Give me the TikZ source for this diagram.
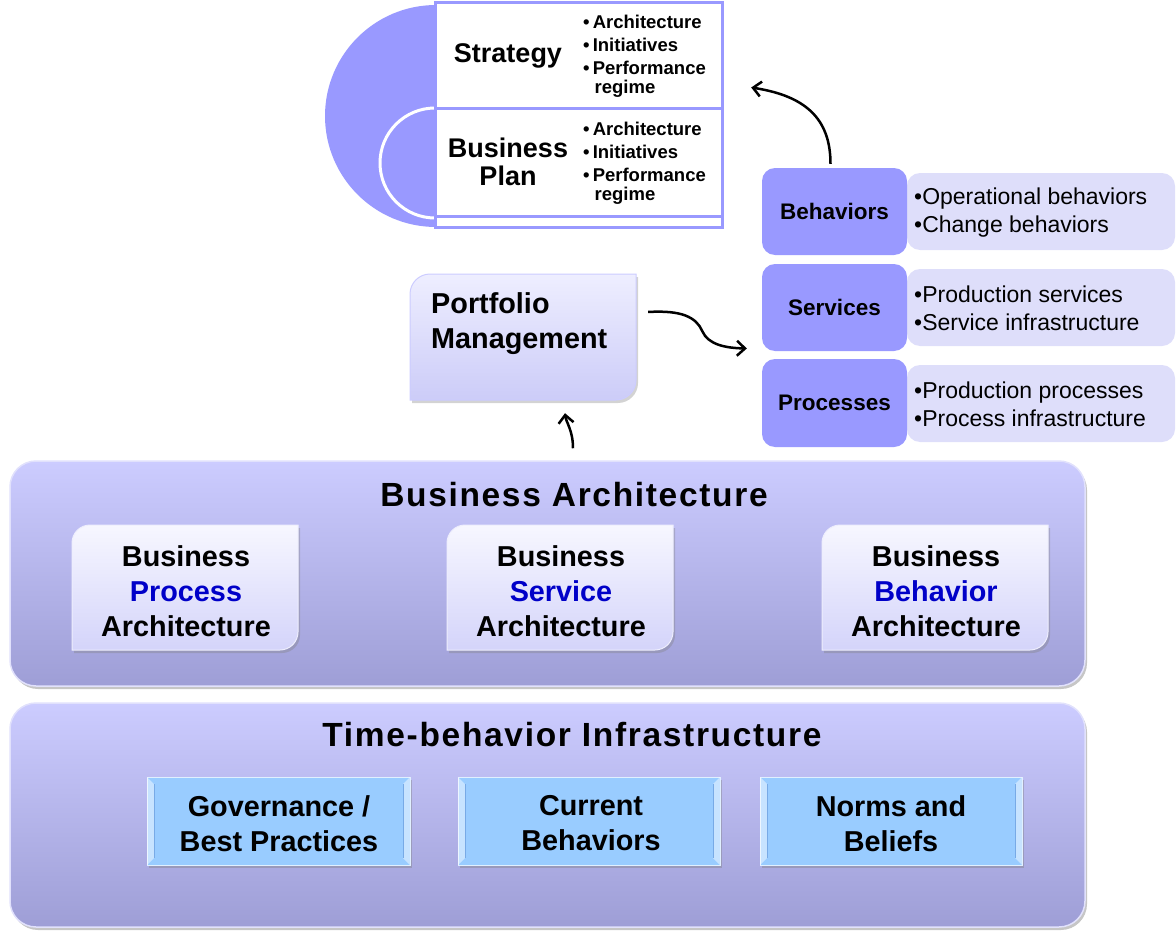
\documentclass[tikz,border=0pt]{standalone}
\usepackage{fontspec}
\setmainfont{Liberation Sans}
\newfontfamily\titlefont[LetterSpace=5]{Liberation Sans}
\usetikzlibrary{arrows.meta,shadows,calc}
\definecolor{purp}{RGB}{153,153,255}
\definecolor{txtfill}{RGB}{222,222,250}
\definecolor{baTop}{RGB}{204,204,255}
\definecolor{baBot}{RGB}{158,158,214}
\definecolor{baEdge}{RGB}{225,225,252}
\definecolor{inTop}{RGB}{247,247,255}
\definecolor{inBot}{RGB}{212,212,250}
\definecolor{pmTop}{RGB}{238,238,255}
\definecolor{pmBot}{RGB}{204,204,248}
\definecolor{blueBox}{RGB}{153,204,255}
\definecolor{bevEdge}{RGB}{120,170,230}
\definecolor{hiBlue}{RGB}{0,0,200}
\newcommand\myasymbox[6][]{%
  \path[#1] (#2,#3+#6) .. controls (#2,#3+0.45*#6) and (#2+0.45*#6,#3) .. (#2+#6,#3)
    -- (#4,#3) -- (#4,#5-#6) .. controls (#4,#5-0.45*#6) and (#4-0.45*#6,#5) .. (#4-#6,#5)
    -- (#2,#5) -- cycle;}
\newcommand\mybevelbox[4]{%
  \fill[blueBox, draw=white!70!blueBox, line width=1pt,
        drop shadow={shadow xshift=2pt,shadow yshift=-3pt,opacity=0.4}] (#1,#2) rectangle (#3,#4);
  \fill[white, opacity=0.45] (#1,#2) -- (#1+7,#2+7) -- (#1+7,#4-7) -- (#1,#4) -- cycle;
  \fill[white, opacity=0.45] (#3,#2) -- (#3-7,#2+7) -- (#3-7,#4-7) -- (#3,#4) -- cycle;
  \draw[bevEdge, line width=0.8pt] (#1+7,#2+7) -- (#1+7,#4-7);
  \draw[bevEdge, line width=0.8pt] (#3-7,#2+7) -- (#3-7,#4-7);}
\tikzset{
  bigbox/.style={rounded corners=26pt, top color=baTop, bottom color=baBot, draw=baEdge,
    line width=1.5pt, drop shadow={shadow xshift=2pt,shadow yshift=-3pt,opacity=0.45},
    minimum width=1075pt, minimum height=225pt, inner sep=0pt},
  innerfill/.style={top color=inTop, bottom color=inBot, draw=white!60!inBot, line width=1pt,
    drop shadow={shadow xshift=2pt,shadow yshift=-3pt,opacity=0.35}},
  lbl/.style={font=\fontsize{28.8}{35}\selectfont\bfseries, align=center, inner sep=0pt},
  bigtitle/.style={font=\titlefont\bfseries\fontsize{33.5}{36}\selectfont, inner sep=0pt},
  stackbox/.style={fill=purp, rounded corners=13pt, minimum width=145pt, minimum height=87pt,
    inner sep=0pt, font=\fontsize{22.5}{24}\selectfont\bfseries},
  txtbox/.style={fill=txtfill, rounded corners=13pt, minimum width=268pt, minimum height=77pt, inner sep=0pt},
  bullets/.style={font=\fontsize{23}{28}\selectfont, align=left, inner sep=0pt, anchor=west},
  smallbul/.style={font=\fontsize{18.5}{23}\selectfont\bfseries, align=left, inner sep=0pt, anchor=north west},
  arr/.style={line width=2.5pt, -{Straight Barb[length=8pt,width=15pt]}}
}
\begin{document}
\begin{tikzpicture}[x=1pt,y=-1pt]
\useasboundingbox (0,0) rectangle (1176,942);

% ---------- Strategy / Business plan ----------
\fill[purp] (436,116) circle[radius=111pt];
\filldraw[fill=purp, draw=white, line width=3pt] (435,163) circle[radius=55pt];
\filldraw[fill=white, draw=purp, line width=3pt] (435,3) rectangle (722,108);
\filldraw[fill=white, draw=purp, line width=3pt] (435,108) rectangle (722,216);
\filldraw[fill=white, draw=purp, line width=3pt] (435,216) rectangle (722,227);
\node[minimum width=287pt, minimum height=105pt, inner sep=0pt] (strat) at (578.5,55.5) {};
\node[lbl, font=\fontsize{27}{28}\selectfont\bfseries] (stratL) at (508,56) {Strategy};
\node[lbl, font=\fontsize{27}{28}\selectfont\bfseries] (bpL) at (508,162) {Business\\Plan};
\node[smallbul] (stratB) at (583,15) {•\,Architecture\\•\,Initiatives\\•\,Performance\\[-4pt]\hspace*{0.62em}regime};
\node[smallbul] (bpB) at (583,122) {•\,Architecture\\•\,Initiatives\\•\,Performance\\[-4pt]\hspace*{0.62em}regime};

% ---------- Right stack ----------
\node[txtbox] (behT) at (1041,211.5) {};
\node[stackbox] (beh) at (834.5,211.5) {Behaviors};
\node[bullets] (behL) at (914,213) {•Operational behaviors\\•Change behaviors};

\node[txtbox] (serT) at (1041,307.5) {};
\node[stackbox] (ser) at (834.5,307.5) {Services};
\node[bullets] (serL) at (914,308) {•Production services\\•Service infrastructure};

\node[txtbox] (proT) at (1041,403.5) {};
\node[stackbox, minimum height=88pt] (pro) at (834.5,403) {Processes};
\node[bullets] (proL) at (914,404) {•Production processes\\•Process infrastructure};

% ---------- Portfolio management ----------
\myasymbox[top color=pmTop, bottom color=pmBot, draw=white!50!purp, line width=1pt,
  drop shadow={shadow xshift=2pt,shadow yshift=-3pt,opacity=0.35}]{410}{274}{636}{400}{20}
\node[minimum width=226pt, minimum height=126pt, inner sep=0pt] (pm) at (523,337) {};
\node[lbl, align=left, anchor=west] (pmL) at (431,324) {Portfolio\\Management};

% ---------- Business Architecture ----------
\node[bigbox] (ba) at (547.5,573.5) {};
\node[bigtitle] (baL) at (574,495) {Business Architecture};
\myasymbox[innerfill]{72}{525}{298}{650}{18}
\myasymbox[innerfill]{447}{525}{673}{650}{18}
\myasymbox[innerfill]{822}{525}{1048}{650}{18}
\node[lbl] (bpa) at (186,591) {Business\\\textcolor{hiBlue}{Process}\\Architecture};
\node[lbl] (bsa) at (561,591) {Business\\\textcolor{hiBlue}{Service}\\Architecture};
\node[lbl] (bba) at (936,591) {Business\\\textcolor{hiBlue}{Behavior}\\Architecture};

% ---------- Time-behavior Infrastructure ----------
\node[bigbox, minimum height=224pt] (tb) at (547.5,815) {};
\node[bigtitle] (tbL) at (572,735) {Time-behavior Infrastructure};
\mybevelbox{147}{777}{410}{865}
\mybevelbox{458}{777}{720}{865}
\mybevelbox{760}{777}{1022}{865}
\node[lbl] (gov) at (279,823.5) {Governance /\\Best Practices};
\node[lbl] (cur) at (591,823.5) {Current\\Behaviors};
\node[lbl] (nor) at (891,823.5) {Norms and\\Beliefs};

% ---------- Connectors ----------
\draw[arr] ($(beh.north)+(-4,-4)$) .. controls ($(beh.north)+(-4,-50)$) and ($(beh.north)+(-30,-72)$) .. ($(strat.east)+(29,32)$);
\draw[arr] ($(pm.east)+(12,-25)$) .. controls ($(pm.east)+(45,-27)$) and ($(pm.east)+(60,-20)$) .. ($(pm.east)+(66,-6)$)
   .. controls ($(pm.east)+(72,8)$) and ($(pm.east)+(90,11)$) .. ($(ser.west)+(-15,41)$);
\draw[arr] ($(ba.north)+(25.5,-12)$) .. controls ($(ba.north)+(25.5,-30)$) and ($(pm.south)+(43,22)$) .. ($(pm.south)+(42,13)$);
\end{tikzpicture}
\end{document}
